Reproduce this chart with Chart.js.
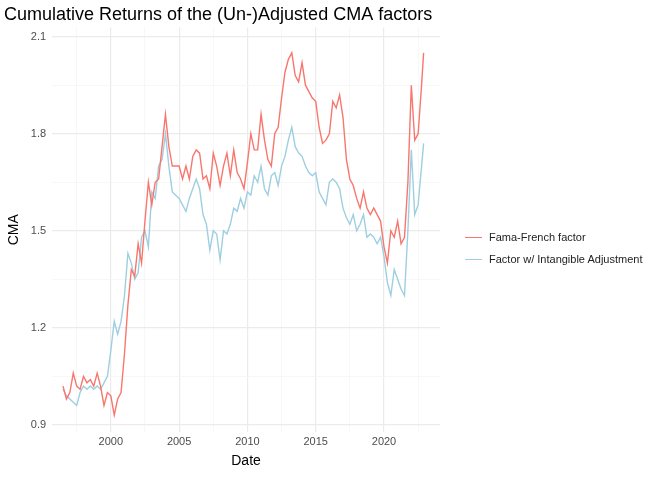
<!DOCTYPE html>
<html><head><meta charset="utf-8">
<script src="https://cdn.jsdelivr.net/npm/chart.js@4"></script>
<style>html,body{margin:0;background:#fff}#wrap{position:relative;width:672px;height:480px}
#legend{position:absolute;left:465px;top:226px;font:11px "Liberation Sans",sans-serif;color:#222}
#legend div{height:22px;display:flex;align-items:center}
#legend span{display:inline-block;width:17px;height:0;border-top:1.5px solid;margin-right:7px}</style>
</head><body><div id="wrap"><canvas id="c"></canvas>
<div id="legend"><div><span style="border-color:#F8766D"></span>Fama-French factor</div><div><span style="border-color:#9ECFE0"></span>Factor w/ Intangible Adjustment</div></div></div>
<script>
const dates = [1996.5,1996.75,1997,1997.25,1997.5,1997.75,1998,1998.25,1998.5,1998.75,1999,1999.25,1999.5,1999.75,2000,2000.25,2000.5,2000.75,2001,2001.25,2001.5,2001.75,2002,2002.25,2002.5,2002.75,2003,2003.25,2003.5,2003.75,2004,2004.25,2004.5,2004.75,2005,2005.25,2005.5,2005.75,2006,2006.25,2006.5,2006.75,2007,2007.25,2007.5,2007.75,2008,2008.25,2008.5,2008.75,2009,2009.25,2009.5,2009.75,2010,2010.25,2010.5,2010.75,2011,2011.25,2011.5,2011.75,2012,2012.25,2012.5,2012.75,2013,2013.25,2013.5,2013.75,2014,2014.25,2014.5,2014.75,2015,2015.25,2015.5,2015.75,2016,2016.25,2016.5,2016.75,2017,2017.25,2017.5,2017.75,2018,2018.25,2018.5,2018.75,2019,2019.25,2019.5,2019.75,2020,2020.25,2020.5,2020.75,2021,2021.25,2021.5,2021.75,2022,2022.25,2022.5,2022.75,2022.9];
const famaFrench = [1.02,0.98,1.00,1.06,1.02,1.01,1.05,1.03,1.04,1.02,1.06,1.02,0.96,1.00,0.99,0.93,0.98,1.00,1.12,1.27,1.38,1.36,1.46,1.40,1.53,1.65,1.58,1.65,1.66,1.76,1.86,1.76,1.70,1.70,1.70,1.66,1.70,1.66,1.73,1.75,1.74,1.66,1.67,1.63,1.74,1.70,1.64,1.70,1.74,1.67,1.75,1.68,1.66,1.63,1.71,1.80,1.75,1.75,1.86,1.78,1.72,1.70,1.80,1.82,1.91,1.99,2.03,2.05,1.98,1.96,2.02,1.95,1.93,1.91,1.90,1.82,1.77,1.78,1.80,1.90,1.88,1.92,1.85,1.72,1.66,1.64,1.60,1.57,1.62,1.57,1.55,1.57,1.55,1.53,1.45,1.40,1.50,1.48,1.53,1.46,1.48,1.65,1.95,1.78,1.80,1.95,2.05];
const intangible = [1.01,0.99,0.98,0.97,0.96,1.00,1.02,1.01,1.02,1.01,1.02,1.01,1.03,1.05,1.13,1.22,1.18,1.22,1.30,1.43,1.40,1.35,1.37,1.48,1.50,1.45,1.62,1.60,1.70,1.72,1.80,1.70,1.62,1.61,1.60,1.58,1.56,1.60,1.63,1.66,1.63,1.55,1.52,1.44,1.50,1.49,1.41,1.50,1.49,1.52,1.57,1.56,1.60,1.57,1.62,1.61,1.67,1.65,1.70,1.63,1.61,1.67,1.68,1.64,1.70,1.73,1.78,1.82,1.76,1.74,1.73,1.70,1.68,1.67,1.68,1.62,1.60,1.58,1.65,1.66,1.65,1.63,1.57,1.54,1.52,1.55,1.50,1.52,1.55,1.48,1.49,1.48,1.46,1.48,1.42,1.34,1.30,1.38,1.35,1.32,1.30,1.50,1.75,1.55,1.58,1.70,1.77];
const xTicks = [1997.5,2000,2002.5,2005,2007.5,2010,2012.5,2015,2017.5,2020,2022.5];
const yTicks = [0.9,1.05,1.2,1.35,1.5,1.65,1.8,1.95,2.1];

const pts = v => v.map((y, i) => ({x: dates[i], y}));
const major = (v, step) => Math.abs(v / step - Math.round(v / step)) < 1e-6;

new Chart(document.getElementById('c'), {
  type: 'line',
  data: {datasets: [
    {label: 'Fama-French factor', data: pts(famaFrench), borderColor: '#F8766D', borderWidth: 1.4, pointRadius: 0, tension: 0},
    {label: 'Factor w/ Intangible Adjustment', data: pts(intangible), borderColor: '#9ECFE0', borderWidth: 1.4, pointRadius: 0, tension: 0}
  ]},
  options: {
    responsive: true, maintainAspectRatio: false, animation: false,
    layout: {padding: {left: 4, right: 232, top: 0, bottom: 8}},
    plugins: {
      title: {display: true, text: 'Cumulative Returns of the (Un-)Adjusted CMA factors', align: 'start',
        color: '#000', font: {family: 'Liberation Sans', size: 18, weight: 'normal'}, padding: {top: 4, bottom: 2}},
      legend: {display: false},
      tooltip: {enabled: false}
    },
    scales: {
      x: {type: 'linear', min: 1995.7, max: 2024.1,
        afterBuildTicks: a => { a.ticks = xTicks.map(v => ({value: v})); },
        ticks: {callback: v => major(v, 5) ? String(v) : '', color: '#4d4d4d', font: {family: 'Liberation Sans', size: 11}, maxRotation: 0, autoSkip: false},
        grid: {color: c => major(c.tick.value, 5) ? '#ebebeb' : '#f5f5f5', lineWidth: c => major(c.tick.value, 5) ? 1.2 : 0.8, drawTicks: false},
        border: {display: false},
        title: {display: true, text: 'Date', color: '#000', font: {family: 'Liberation Sans', size: 14}, padding: 2}},
      y: {min: 0.878, max: 2.128,
        afterBuildTicks: a => { a.ticks = yTicks.map(v => ({value: v})); },
        ticks: {callback: v => major(v, 0.3) ? v.toFixed(1) : '', color: '#4d4d4d', font: {family: 'Liberation Sans', size: 11}, autoSkip: false, padding: 6},
        grid: {color: c => major(c.tick.value, 0.3) ? '#ebebeb' : '#f5f5f5', lineWidth: c => major(c.tick.value, 0.3) ? 1.2 : 0.8, drawTicks: false},
        border: {display: false},
        title: {display: true, text: 'CMA', color: '#000', font: {family: 'Liberation Sans', size: 14}, padding: 2}}
    }
  }
});
</script></body></html>
